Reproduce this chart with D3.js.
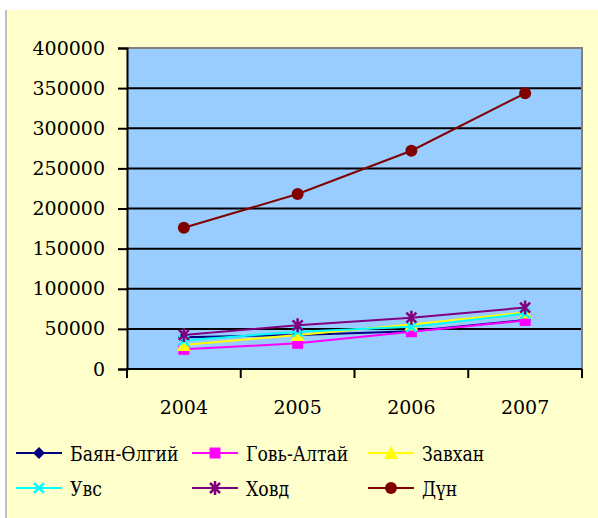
<!DOCTYPE html>
<html><head><meta charset="utf-8">
<script src="https://cdn.jsdelivr.net/npm/d3@7"></script>
<style>body{margin:0;background:#fff}svg{display:block}</style>
</head><body>
<script>
const years = ["2004", "2005", "2006", "2007"];
const seriesNames = ["Баян-Өлгий", "Говь-Алтай", "Завхан", "Увс", "Ховд", "Дүн"];
const bayanUlgii = [39500, 42500, 47000, 61000];
const goviAltai = [24500, 32000, 46500, 60500];
const zavkhan = [30000, 42500, 55500, 70500];
const uvs = [35500, 46500, 52500, 69000];
const khovd = [42500, 54500, 64000, 76500];
const total = [176000, 218000, 272000, 343500];
const yTicks = [0, 50000, 100000, 150000, 200000, 250000, 300000, 350000, 400000];

const seriesValues = [bayanUlgii, goviAltai, zavkhan, uvs, khovd, total];
const colors = ["#000080", "#FF00FF", "#FFFF00", "#00FFFF", "#800080", "#800000"];
const markers = ["diamond", "square", "triangle", "x", "star", "circle"];

const W = 598, H = 518;
const L = 127, R = 582, T = 48, B = 369;
const svg = d3.select("body").append("svg").attr("width", W).attr("height", H);
const font = "DejaVu Serif";
const fs = 19;

svg.append("rect").attr("x", 7).attr("y", 10).attr("width", W - 7).attr("height", H - 10).attr("fill", "#FFFFCC");
svg.append("line").attr("x1", 6).attr("x2", 6).attr("y1", 10).attr("y2", H).attr("stroke", "#c0c0c0").attr("stroke-width", 2);

const x = d3.scaleBand().domain(years).range([L, R]).padding(0);
const y = d3.scaleLinear().domain([0, 400000]).range([B, T]);

svg.append("rect").attr("x", L).attr("y", T).attr("width", R - L).attr("height", B - T).attr("fill", "#99CCFF");

svg.append("g").selectAll("line").data(yTicks.filter(d => d > 0 && d < 400000)).join("line")
  .attr("x1", L).attr("x2", R).attr("y1", d => y(d)).attr("y2", d => y(d))
  .attr("stroke", "#000").attr("stroke-width", 2);

svg.append("path").attr("d", `M${L},${T}H${R}V${B}`).attr("fill", "none").attr("stroke", "#808080").attr("stroke-width", 2);

const ya = svg.append("g").attr("transform", `translate(${L},0)`)
  .call(d3.axisLeft(y).tickValues(yTicks).tickSize(9).tickPadding(13).tickFormat(d3.format("d")));
ya.attr("font-family", font).attr("font-size", fs);
ya.select(".domain").attr("stroke", "#000").attr("stroke-width", 2);
ya.selectAll(".tick line").attr("stroke", "#000").attr("stroke-width", 2);
ya.selectAll("text").attr("fill", "#000");

svg.append("line").attr("x1", L - 1).attr("x2", R).attr("y1", B).attr("y2", B).attr("stroke", "#000").attr("stroke-width", 2);
const bounds = years.map(d => x(d)).concat([x.range()[1]]);
svg.append("g").selectAll("line").data(bounds).join("line")
  .attr("x1", d => d).attr("x2", d => d).attr("y1", B).attr("y2", B + 9)
  .attr("stroke", "#000").attr("stroke-width", 2);
svg.append("g").attr("font-family", font).attr("font-size", fs).selectAll("text").data(years).join("text")
  .attr("x", d => x(d) + x.bandwidth() / 2).attr("y", 414)
  .attr("text-anchor", "middle").text(d => d);

function drawMarker(g, type, cx, cy, color) {
  if (type === "diamond") {
    g.append("path").attr("d", `M${cx},${cy-6}L${cx+6},${cy}L${cx},${cy+6}L${cx-6},${cy}Z`).attr("fill", color);
  } else if (type === "square") {
    g.append("rect").attr("x", cx - 5.5).attr("y", cy - 5.5).attr("width", 11).attr("height", 11).attr("fill", color);
  } else if (type === "triangle") {
    g.append("path").attr("d", `M${cx},${cy-7}L${cx+7},${cy+6}L${cx-7},${cy+6}Z`).attr("fill", color);
  } else if (type === "x") {
    g.append("path").attr("d", `M${cx-5},${cy-5}L${cx+5},${cy+5}M${cx-5},${cy+5}L${cx+5},${cy-5}`).attr("stroke", color).attr("stroke-width", 2.5);
  } else if (type === "star") {
    g.append("path").attr("d", `M${cx-5},${cy-5}L${cx+5},${cy+5}M${cx-5},${cy+5}L${cx+5},${cy-5}M${cx},${cy-7}V${cy+7}`).attr("stroke", color).attr("stroke-width", 2.5);
  } else {
    g.append("circle").attr("cx", cx).attr("cy", cy).attr("r", 6).attr("fill", color);
  }
}

const line = d3.line().x((d, i) => x(years[i]) + x.bandwidth() / 2).y(d => y(d));
seriesValues.forEach((vals, si) => {
  const g = svg.append("g");
  g.append("path").attr("d", line(vals)).attr("fill", "none").attr("stroke", colors[si]).attr("stroke-width", 2);
  vals.forEach((v, i) => drawMarker(g, markers[si], x(years[i]) + x.bandwidth() / 2, y(v), colors[si]));
});

const legX = [16, 192, 368], legY = [453, 488];
const lg = svg.append("g").attr("font-family", font).attr("font-size", fs);
seriesNames.forEach((name, i) => {
  const lx = legX[i % 3], ly = legY[Math.floor(i / 3)];
  const g = lg.append("g");
  g.append("line").attr("x1", lx).attr("x2", lx + 46).attr("y1", ly).attr("y2", ly).attr("stroke", colors[i]).attr("stroke-width", 2);
  drawMarker(g, markers[i], lx + 23, ly, colors[i]);
  g.append("text").attr("transform", `translate(${lx + 54},${ly + 7.5}) scale(0.91,1.08)`).text(name);
});
</script>
</body></html>
